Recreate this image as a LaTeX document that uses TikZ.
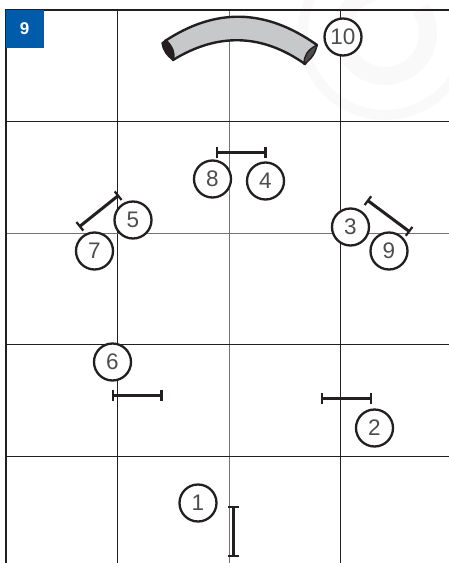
\documentclass[tikz,border=0pt]{standalone}
\usepackage{fontspec}
\setmainfont{Liberation Sans}
\usetikzlibrary{arrows.meta}
\definecolor{badge}{HTML}{005BAA}
\definecolor{ink}{HTML}{231F20}
\definecolor{wm}{HTML}{F9F9F9}
\definecolor{tunnelfill}{HTML}{C7C8CA}
\tikzset{
  num/.style={circle,draw=ink,fill=white,line width=2.3pt,minimum size=37pt,inner sep=0pt,text=ink!80,font=\fontsize{22.5}{22.5}\selectfont},
  gridline/.style={draw=ink,line width=1pt},
  centreline/.style={draw=black!55,line width=1.4pt},
  frameline/.style={draw=ink,line width=2pt},
  gate/.style={draw=ink,line width=3pt,{Bar[width=11pt,line width=2.2pt]}-{Bar[width=11pt,line width=2.2pt]}},
}
\begin{document}
\begin{tikzpicture}[x=1pt,y=-1pt]
\useasboundingbox (0,0) rectangle (449,563);
\fill[white] (0,0) rectangle (449,563);
% faint watermark
\begin{scope}
\clip (0,0) rectangle (449,563);
\draw[wm,line width=10pt] plot[smooth,domain=0:360,samples=90] ({385+82*cos(\x)},{33+82*sin(\x)});
\draw[wm,line width=18pt] plot[smooth,domain=-35:285,samples=70] ({385+43*cos(\x)},{33+43*sin(\x)});
\end{scope}
% grid
\foreach \x/\n/\s in {117.5/a/gridline,229.5/b/centreline,340.5/c/gridline}{
  \coordinate (t\n) at (\x,10); \coordinate (b\n) at (\x,563);
  \draw[\s] (t\n) -- (b\n);
}
\foreach \y/\n/\s in {121.5/a/gridline,233.5/b/centreline,344.5/c/gridline,456.5/d/gridline}{
  \coordinate (l\n) at (6,\y); \coordinate (r\n) at (449,\y);
  \draw[\s] (l\n) -- (r\n);
}
\coordinate (tl) at (6,10); \coordinate (tr) at (449,10); \coordinate (bl) at (6,563);
\draw[frameline] (tr) -- (tl) -- (bl);
% badge
\node[fill=badge,text=white,minimum size=38pt,inner sep=0pt,font=\fontsize{17}{17}\selectfont\bfseries] (badge) at (24.5,28.5) {9};
% tunnel
\fill[draw=ink,line width=2.4pt,fill=tunnelfill,line join=round]
  (165,41) .. controls (215,8) and (265,8) .. (317,45)
  -- (305,64) .. controls (261,33) and (217,33) .. (173,60) -- cycle;
\fill[ink,draw=ink,line width=1.4pt,line join=round]
  (162,43) .. controls (163,50) and (167,56) .. (173,60)
  .. controls (176,53) and (172,46) .. (166,40) -- cycle;
\fill[black!70,draw=ink,line width=1.4pt,line join=round]
  (317,45) .. controls (316,52) and (312,59) .. (304,64)
  .. controls (304,56) and (307,50) .. (317,45) -- cycle;
% gates
\coordinate (g1a) at (233.5,506); \coordinate (g1b) at (233.5,557);
\coordinate (g2a) at (321,398.5); \coordinate (g2b) at (372,398.5);
\coordinate (g3a) at (367,200); \coordinate (g3b) at (410,232);
\coordinate (g4a) at (216,152.5); \coordinate (g4b) at (266.5,152.5);
\coordinate (g5a) at (79,227); \coordinate (g5b) at (119,195);
\coordinate (g6a) at (112,395.5); \coordinate (g6b) at (162.5,395.5);
\foreach \n in {1,...,6}{ \draw[gate] (g\n a) -- (g\n b); }
% numbers
\node[num] (n1) at (198,503) {1};
\node[num] (n2) at (374.5,428) {2};
\node[num] (n3) at (350.5,227) {3};
\node[num] (n4) at (265.5,181) {4};
\node[num] (n5) at (133,220) {5};
\node[num] (n6) at (112.5,362) {6};
\node[num] (n7) at (94.5,251) {7};
\node[num] (n8) at (212.5,179) {8};
\node[num] (n9) at (389,251) {9};
\node[num] (n10) at (343,37) {10};
\end{tikzpicture}
\end{document}
